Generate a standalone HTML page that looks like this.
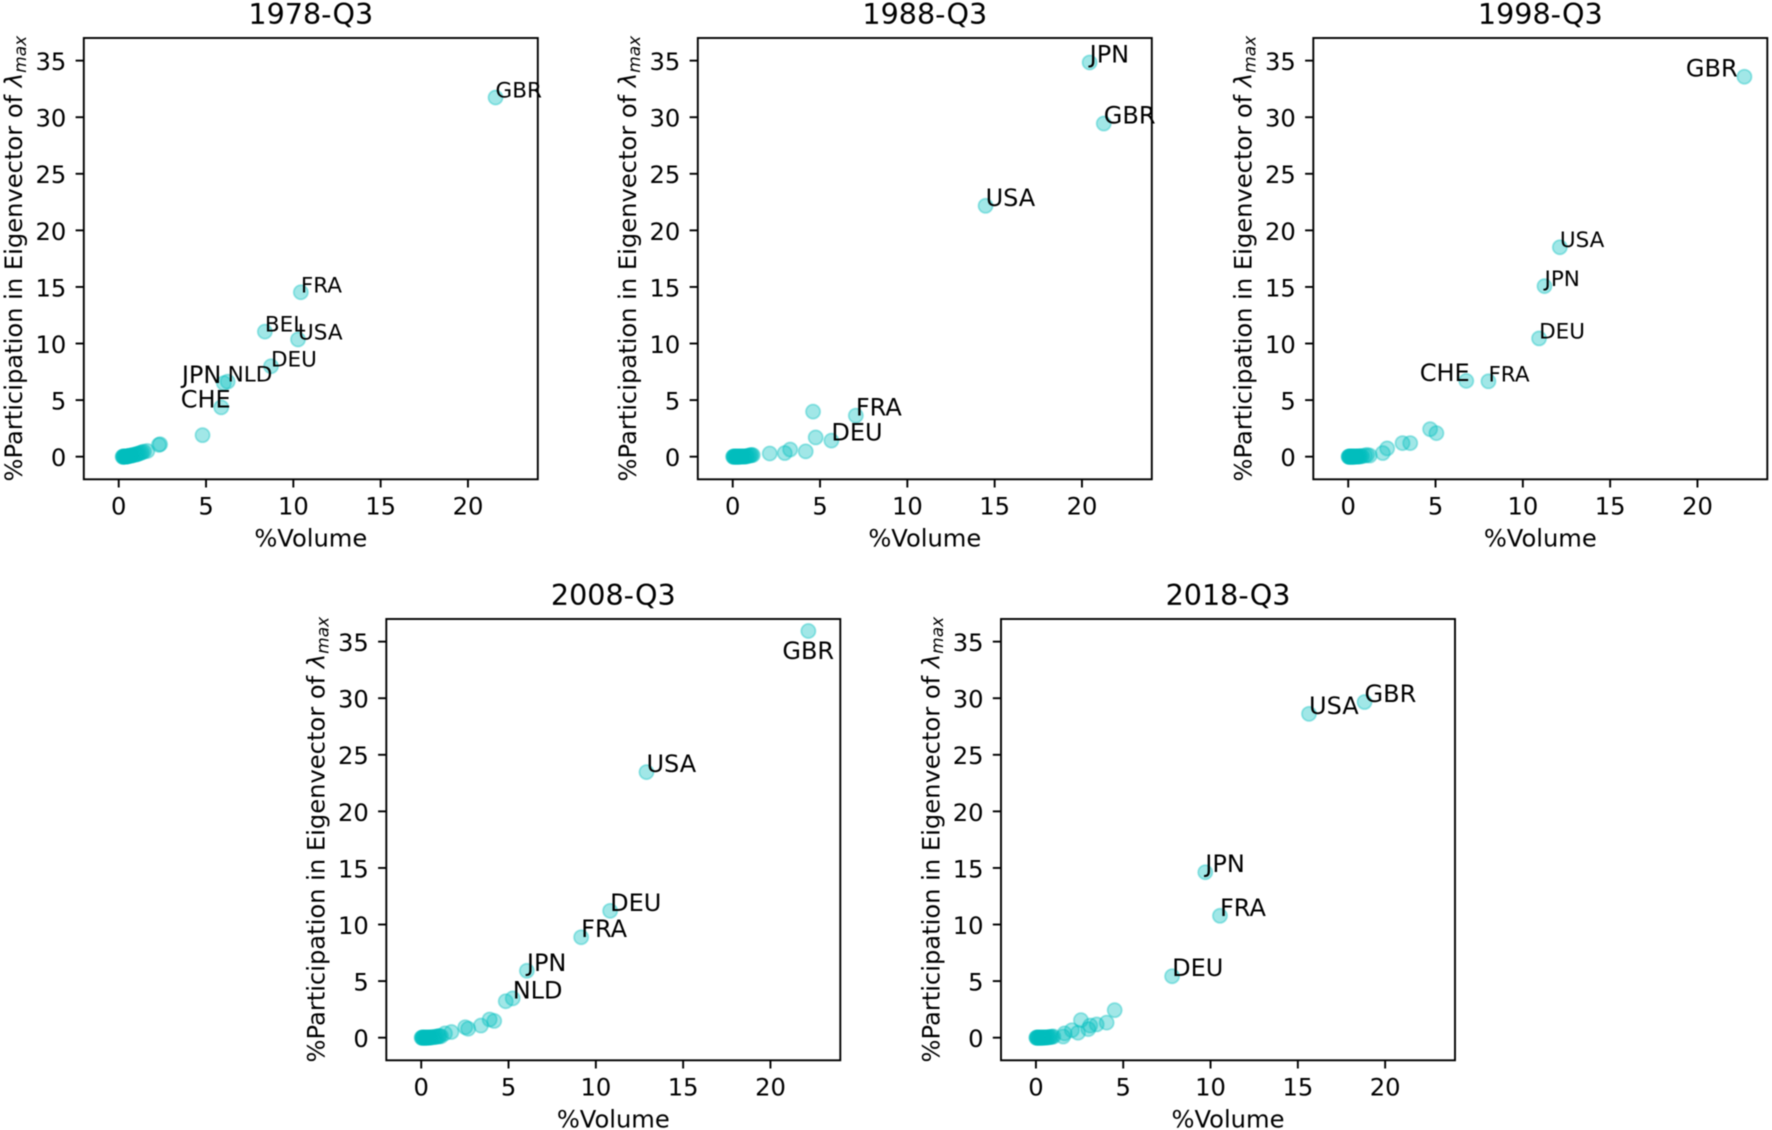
<!DOCTYPE html>
<html lang="en">
<head>
<meta charset="utf-8">
<title>Participation in Eigenvector vs Volume</title>
<style>
html,body{margin:0;padding:0;background:#fff;}
body{width:1772px;height:1130px;overflow:hidden;}
svg{display:block;font-family:"DejaVu Sans",sans-serif;filter:blur(0.4px);}
</style>
</head>
<body>
<svg id="chart" xmlns="http://www.w3.org/2000/svg" width="1772" height="1130" viewBox="0 0 1772 1130"></svg>
<script>
const panelTitles = ['1978-Q3', '1988-Q3', '1998-Q3', '2008-Q3', '2018-Q3'];
const xTickValues = [0, 5, 10, 15, 20];
const yTickValues = [0, 5, 10, 15, 20, 25, 30, 35];
const xLimits = [-2, 24];
const yLimits = [-2, 37];

const volume1978 = [21.58, 10.43, 8.37, 10.27, 8.72, 6.02, 6.24, 5.87, 4.8, 2.37, 2.3, 1.64, 0.22, 0.25, 0.28, 0.3, 0.32, 0.35, 0.38, 0.4, 0.42, 0.45, 0.48, 0.5, 0.55, 0.58, 0.62, 0.68, 0.72, 0.78, 0.85, 0.92, 1.0, 1.05, 1.12, 1.2, 1.28, 1.35, 1.45];
const share1978 = [31.74, 14.53, 11.05, 10.36, 7.99, 6.5, 6.63, 4.36, 1.9, 1.1, 1.04, 0.5, 0, 0, 0, 0, 0, 0, 0.01, 0.01, 0.02, 0.02, 0.03, 0.04, 0.05, 0.06, 0.07, 0.09, 0.1, 0.12, 0.15, 0.18, 0.2, 0.22, 0.27, 0.3, 0.35, 0.4, 0.45];
const names1978 = ['GBR', 'FRA', 'BEL', 'USA', 'DEU', 'JPN', 'NLD', 'CHE'];

const volume1988 = [20.44, 21.25, 14.48, 7.05, 5.65, 4.6, 4.75, 4.18, 3.29, 2.98, 2.12, 0.02, 0.05, 0.08, 0.1, 0.13, 0.16, 0.2, 0.22, 0.25, 0.28, 0.32, 0.35, 0.38, 0.42, 0.45, 0.5, 0.55, 0.6, 0.65, 0.7, 0.75, 0.8, 0.88, 0.95, 1.02, 1.08, 1.15];
const share1988 = [34.84, 29.44, 22.17, 3.63, 1.42, 3.98, 1.7, 0.47, 0.63, 0.32, 0.28, 0, 0, 0, 0, 0, 0, 0, 0, 0, 0, 0, 0, 0, 0, 0.01, 0.01, 0.01, 0.01, 0.02, 0.02, 0.03, 0.04, 0.06, 0.1, 0.12, 0.15, 0.14];
const names1988 = ['JPN', 'GBR', 'USA', 'FRA', 'DEU'];

const volume1998 = [22.69, 12.12, 11.24, 10.93, 8.03, 6.76, 4.69, 5.05, 3.55, 3.11, 2.23, 1.98, 1.23, 1.08, 0.96, 0.02, 0.04, 0.06, 0.08, 0.1, 0.12, 0.15, 0.18, 0.2, 0.22, 0.25, 0.28, 0.3, 0.33, 0.36, 0.4, 0.44, 0.48, 0.52, 0.56, 0.6, 0.66, 0.72, 0.8];
const share1998 = [33.58, 18.51, 15.07, 10.45, 6.66, 6.7, 2.43, 2.08, 1.2, 1.2, 0.73, 0.32, 0.1, 0.15, 0.1, 0, 0, 0, 0, 0, 0, 0, 0, 0, 0, 0, 0, 0, 0, 0, 0.01, 0.01, 0.01, 0.02, 0.02, 0.03, 0.03, 0.04, 0.05];
const names1998 = ['GBR', 'USA', 'JPN', 'DEU', 'FRA', 'CHE'];

const volume2008 = [22.17, 12.9, 10.82, 9.16, 6.05, 5.24, 4.84, 4.18, 3.92, 3.42, 2.69, 2.52, 1.73, 1.36, 1.14, 0.02, 0.05, 0.08, 0.1, 0.13, 0.16, 0.2, 0.23, 0.26, 0.3, 0.34, 0.38, 0.42, 0.46, 0.5, 0.56, 0.62, 0.7, 0.78, 0.85, 0.92, 1.0, 1.05];
const share2008 = [35.94, 23.47, 11.21, 8.88, 5.91, 3.47, 3.22, 1.48, 1.61, 1.07, 0.79, 0.92, 0.5, 0.38, 0.13, 0, 0, 0, 0, 0, 0, 0, 0, 0, 0, 0, 0, 0.01, 0.01, 0.02, 0.03, 0.04, 0.05, 0.06, 0.08, 0.1, 0.12, 0.15];
const names2008 = ['GBR', 'USA', 'DEU', 'FRA', 'JPN', 'NLD'];

const volume2018 = [18.82, 15.64, 9.7, 10.54, 7.8, 4.51, 4.05, 3.48, 2.58, 3.11, 3.0, 2.41, 2.06, 1.64, 1.56, 0.02, 0.05, 0.08, 0.1, 0.13, 0.16, 0.2, 0.23, 0.26, 0.3, 0.34, 0.38, 0.42, 0.46, 0.5, 0.55, 0.6, 0.66, 0.72, 0.78, 0.85, 0.92, 1.0];
const share2018 = [29.66, 28.62, 14.62, 10.77, 5.43, 2.43, 1.33, 1.17, 1.55, 1.07, 0.76, 0.44, 0.66, 0.38, 0.1, 0, 0, 0, 0, 0, 0, 0, 0, 0, 0, 0, 0, 0, 0.01, 0.01, 0.02, 0.02, 0.03, 0.04, 0.05, 0.06, 0.08, 0.1];
const names2018 = ['GBR', 'USA', 'JPN', 'FRA', 'DEU'];

const panelVolumes = [volume1978, volume1988, volume1998, volume2008, volume2018];
const panelShares = [share1978, share1988, share1998, share2008, share2018];
const panelNames = [names1978, names1988, names1998, names2008, names2018];

// Layout only: plot rectangles and annotation styling.
const frames = [
  {left: 83.8, right: 537.8, top: 38, bottom: 479.3},
  {left: 697.8, right: 1151.8, top: 38, bottom: 479.3},
  {left: 1313.3, right: 1767.3, top: 38, bottom: 479.3},
  {left: 386.3, right: 840.3, top: 619, bottom: 1060.3},
  {left: 1001, right: 1455, top: 619, bottom: 1060.3}
];
const smallLabels = {
  '1978-Q3': ['GBR', 'FRA', 'BEL', 'USA', 'DEU', 'NLD'],
  '1998-Q3': ['USA', 'JPN', 'DEU', 'FRA']
};
const labelNudges = {
  '1978-Q3/JPN': [-42, 0],
  '1978-Q3/CHE': [-40.5, 0],
  '1998-Q3/GBR': [-58.5, 0],
  '1998-Q3/CHE': [-46.5, 0],
  '2008-Q3/GBR': [-26, 28]
};

const svgNS = 'http://www.w3.org/2000/svg';
const root = document.getElementById('chart');
const INK = '#000';
const TEAL = '#00bfbf';
const AXIS_FONT = 24.2;

function make(tag, attrs, parent) {
  const el = document.createElementNS(svgNS, tag);
  for (const key in attrs) el.setAttribute(key, attrs[key]);
  parent.appendChild(el);
  return el;
}

function drawPanel(index) {
  const title = panelTitles[index];
  const f = frames[index];
  const xs = panelVolumes[index];
  const ys = panelShares[index];
  const names = panelNames[index];
  const xScale = v => f.left + (v - xLimits[0]) / (xLimits[1] - xLimits[0]) * (f.right - f.left);
  const yScale = v => f.bottom - (v - yLimits[0]) / (yLimits[1] - yLimits[0]) * (f.bottom - f.top);

  const group = make('g', {}, root);
  
  

  const points = make('g', {}, group);
  
  
  for (let i = xs.length - 1; i >= 0; i--) {
    const dot = make('circle', {
      cx: xScale(xs[i]).toFixed(2),
      cy: yScale(ys[i]).toFixed(2),
      r: 7.1,
      fill: TEAL,
      'fill-opacity': 0.37,
      stroke: TEAL,
      'stroke-opacity': 0.37,
      'stroke-width': 1.8
    }, points);
    
    
  }

  const frame = make('rect', {
    x: f.left, y: f.top, width: f.right - f.left, height: f.bottom - f.top,
    fill: 'none', stroke: INK, 'stroke-width': 1.9
  }, group);
  
  

  xTickValues.forEach(v => {
    const x = xScale(v);
    const tick = make('line', {x1: x, x2: x, y1: f.bottom, y2: f.bottom + 8.2, stroke: INK, 'stroke-width': 1.9}, group);
    
    
    const label = make('text', {x: x, y: f.bottom + 35, 'font-size': AXIS_FONT, 'text-anchor': 'middle', fill: INK}, group);
    label.textContent = String(v);
    
    
  });

  yTickValues.forEach(v => {
    const y = yScale(v);
    const tick = make('line', {x1: f.left - 8.2, x2: f.left, y1: y, y2: y, stroke: INK, 'stroke-width': 1.9}, group);
    
    
    const label = make('text', {x: f.left - 17.5, y: y + 9.4, 'font-size': AXIS_FONT, 'text-anchor': 'end', fill: INK}, group);
    label.textContent = String(v);
    
    
  });

  const cx = (f.left + f.right) / 2;
  const cy = (f.top + f.bottom) / 2;

  const heading = make('text', {x: cx, y: f.top - 14, 'font-size': 28.6, 'text-anchor': 'middle', fill: INK}, group);
  heading.textContent = title;
  
  

  const xTitle = make('text', {x: cx, y: f.bottom + 67, 'font-size': AXIS_FONT, 'text-anchor': 'middle', fill: INK}, group);
  xTitle.textContent = '%Volume';
  
  

  const yTitle = make('text', {
    'font-size': AXIS_FONT, 'text-anchor': 'middle', fill: INK,
    transform: 'translate(' + (f.left - 61.6) + ' ' + cy + ') rotate(-90)'
  }, group);
  
  
  make('tspan', {}, yTitle).textContent = '%Participation in Eigenvector of ';
  make('tspan', {'font-style': 'italic'}, yTitle).textContent = '\u03BB';
  make('tspan', {'font-style': 'italic', 'font-size': 17, dy: 3.6}, yTitle).textContent = 'max';

  const smallSet = smallLabels[title] || [];
  names.forEach((name, i) => {
    const nudge = labelNudges[title + '/' + name] || [0, 0];
    const tag = make('text', {
      x: (xScale(xs[i]) + nudge[0]).toFixed(2),
      y: (yScale(ys[i]) + nudge[1]).toFixed(2),
      'font-size': smallSet.includes(name) ? 21.5 : 24,
      fill: INK
    }, group);
    tag.textContent = name;
    
    
  });
}

panelTitles.forEach((_, i) => drawPanel(i));
</script>
</body>
</html>
